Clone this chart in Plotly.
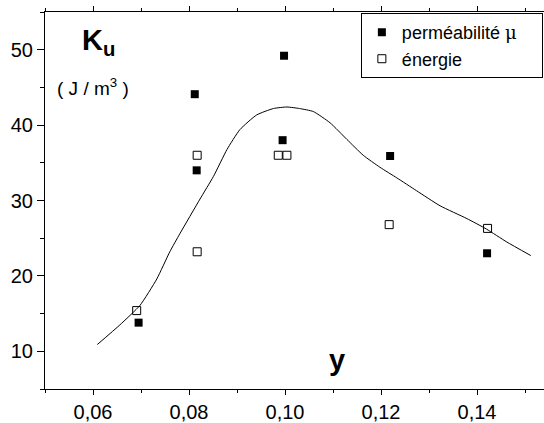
import plotly.graph_objects as go

# Data
perm_x = [0.0695, 0.0812, 0.0816, 0.0995, 0.0998, 0.1219, 0.1421]
perm_y = [13.8, 44.1, 34.0, 38.0, 49.2, 35.9, 23.0]

ener_x = [0.0691, 0.0817, 0.0817, 0.0986, 0.1004, 0.1217, 0.1422]
ener_y = [15.4, 36.0, 23.2, 36.0, 36.0, 26.8, 26.3]

curve_x = [0.0609, 0.0656, 0.0698, 0.0733, 0.0760, 0.0781, 0.0823, 0.0851, 0.0879,
           0.0906, 0.0941, 0.0976, 0.1004, 0.1030, 0.1059, 0.1094, 0.1129, 0.1163,
           0.1198, 0.1233, 0.1274, 0.1323, 0.1379, 0.1420, 0.1462, 0.1512]
curve_y = [10.9, 13.5, 16.1, 19.6, 23.2, 25.6, 30.2, 33.2, 36.75,
           39.4, 41.35, 42.2, 42.4, 42.2, 41.8, 40.3, 38.1, 36.0,
           34.4, 33.0, 31.3, 29.3, 27.6, 26.2, 24.5, 22.7]

x_ticks = [0.06, 0.08, 0.10, 0.12, 0.14]
x_ticktext = ["0,06", "0,08", "0,10", "0,12", "0,14"]
y_ticks = [10, 20, 30, 40, 50]

FONT = "Liberation Sans, Arial, sans-serif"

fig = go.Figure()
fig.add_trace(go.Scatter(x=curve_x, y=curve_y, mode="lines",
                         line=dict(color="black", width=1, shape="spline", smoothing=0.5),
                         showlegend=False, hoverinfo="skip"))
fig.add_trace(go.Scatter(x=perm_x, y=perm_y, mode="markers",
                         name='perméabilité <span style="font-family:DejaVu Serif, serif">μ</span>&nbsp;&nbsp;&nbsp;&nbsp;',
                         marker=dict(symbol="square", size=8, color="black",
                                     line=dict(width=0))))
fig.add_trace(go.Scatter(x=ener_x, y=ener_y, mode="markers", name="énergie",
                         marker=dict(symbol="square-open", size=8, color="black",
                                     line=dict(width=1, color="black"))))

fig.update_layout(
    width=544, height=423,
    margin=dict(l=45, r=0, t=12, b=31),
    paper_bgcolor="white", plot_bgcolor="white",
    font=dict(family=FONT, color="black", size=20),
    legend=dict(x=0.633, y=0.997, xanchor="left", yanchor="top",
                bordercolor="black", borderwidth=1, bgcolor="white",
                font=dict(size=18, family=FONT), tracegroupgap=0,
                itemwidth=30),
    xaxis=dict(range=[0.05, 0.05 + 499 / 4800], showgrid=False, zeroline=False,
               showline=True, linecolor="black", linewidth=1, mirror="ticks",
               ticks="outside", ticklen=5, tickcolor="black", tickwidth=1,
               tickvals=x_ticks, ticktext=x_ticktext,
               tickfont=dict(size=20, family=FONT),
               minor=dict(ticks="outside", ticklen=3, tick0=0.05, dtick=0.01,
                          tickcolor="black", showgrid=False)),
    yaxis=dict(range=[5, 55], showgrid=False, zeroline=False,
               showline=True, linecolor="black", linewidth=1,
               ticks="outside", ticklen=7, tickcolor="black", tickwidth=1,
               tickvals=y_ticks, tickfont=dict(size=20, family=FONT),
               minor=dict(ticks="outside", ticklen=4, tick0=5, dtick=5,
                          tickcolor="black", showgrid=False)),
)

fig.add_annotation(x=0.0573, y=51.0, xref="x", yref="y", xanchor="left", yanchor="middle",
                   text="<b>K<sub>u</sub></b>", showarrow=False,
                   font=dict(size=29, family=FONT, color="black"))
fig.add_annotation(x=0.05 + 10 / 4800, y=45.0, xref="x", yref="y", xanchor="left",
                   yanchor="middle", text="( J / m<sup>3</sup> )", showarrow=False,
                   font=dict(size=19, family=FONT, color="black"))
fig.add_annotation(x=0.1108, y=8.86, xref="x", yref="y", xanchor="center", yanchor="middle",
                   text="<b>y</b>", showarrow=False,
                   font=dict(size=29, family=FONT, color="black"))

fig.write_html("out.html")
